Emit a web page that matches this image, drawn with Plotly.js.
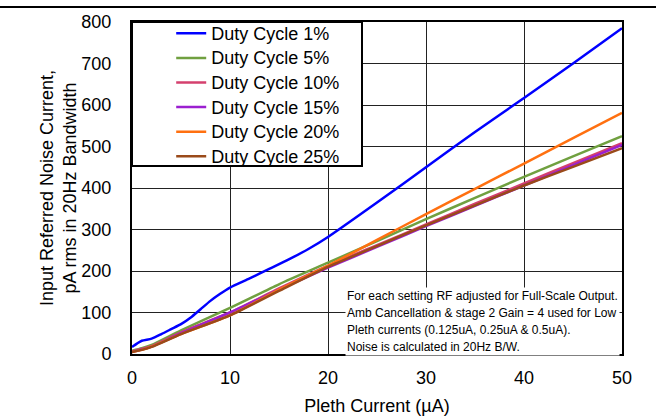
<!DOCTYPE html>
<html>
<head>
<meta charset="utf-8">
<script src="https://cdn.plot.ly/plotly-3.0.1.min.js"></script>
<style>html,body{margin:0;padding:0;background:#fff}</style>
</head>
<body>
<div id="chart" style="width:656px;height:417px"></div>
<script>
const seriesNames = ["Duty Cycle 1%", "Duty Cycle 5%", "Duty Cycle 10%", "Duty Cycle 15%", "Duty Cycle 20%", "Duty Cycle 25%"];
const seriesColors = ["#0000FF", "#70A040", "#D4406E", "#9B1FD0", "#FF7010", "#9A4A1A"];

const xBlue = [0, 0.5, 1, 2, 3, 4, 5, 6, 7, 8, 9, 10, 12, 14, 16, 18, 20, 25, 30, 35, 40, 45, 50];
const dc1 = [17, 25, 32, 37, 48, 60, 72, 88, 108, 128, 145, 160, 182, 205, 228, 253, 282, 365, 450, 535, 617, 700, 785];

const xOther = [0, 1, 2, 5, 10, 15, 20, 25, 30, 35, 40, 45, 50];
const dc5  = [8, 14, 22, 57, 111, 168, 220, 272, 325, 376, 427, 476, 525];
const dc10 = [6, 12, 19, 52, 100, 158, 213, 262, 312, 362, 411, 460, 508];
const dc15 = [5, 11, 18, 50, 100, 155, 208, 258, 308, 357, 406, 455, 504];
const dc20 = [5, 10, 18, 48, 93, 155, 213, 275, 337, 398, 459, 520, 581];
const dc25 = [5, 10, 17, 48, 93, 152, 210, 260, 310, 358, 406, 451, 496];

const xTicks = [0, 10, 20, 30, 40, 50];
const yTicks = [0, 100, 200, 300, 400, 500, 600, 700, 800];

const noteLines = [
  "For each setting RF adjusted for Full-Scale Output.",
  "Amb Cancellation &amp; stage 2 Gain = 4 used for Low",
  "Pleth currents (0.125uA, 0.25uA &amp; 0.5uA).",
  "Noise is calculated in 20Hz B/W."
];

const ys = [dc1, dc5, dc10, dc15, dc20, dc25];
const traces = ys.map((y, i) => ({
  x: i === 0 ? xBlue : xOther,
  y: y,
  name: '<span style="font-size:18px">' + seriesNames[i] + '</span>',
  type: "scatter",
  mode: "lines",
  line: {color: seriesColors[i], width: 2.5, shape: "spline", smoothing: 0.6}
}));

const fam = "Liberation Sans, Arial, sans-serif";
const font = {family: fam, size: 18, color: "#000"};

const layout = {
  width: 656, height: 417,
  margin: {l: 132, r: 34, t: 22, b: 63, pad: 0},
  paper_bgcolor: "#fff", plot_bgcolor: "#fff",
  font: font,
  showlegend: true,
  legend: {
    x: 0.08, y: 1.018, xanchor: "left", yanchor: "top",
    bgcolor: "rgba(0,0,0,0)", borderwidth: 0,
    font: {family: fam, size: 16.6, color: "#000"},
    tracegroupgap: 0
  },
  xaxis: {
    range: [0, 50], tickvals: xTicks, ticktext: xTicks.map(String),
    showgrid: true, gridcolor: "#222", gridwidth: 1,
    zeroline: false, showline: true, linecolor: "#000", linewidth: 2, mirror: true,
    ticks: "", ticklabelstandoff: 6,
    tickfont: {size: 18},
    title: {text: "Pleth Current (µA)", font: {size: 18}, standoff: 13},
    automargin: false, fixedrange: true
  },
  yaxis: {
    range: [0, 800], tickvals: yTicks, ticktext: yTicks.map(String),
    showgrid: true, gridcolor: "#222", gridwidth: 1,
    zeroline: false, showline: true, linecolor: "#000", linewidth: 2, mirror: true,
    ticks: "", ticklabelstandoff: 15,
    tickfont: {size: 18},
    title: {text: "Input Referred Noise Current,<br>pA rms in 20Hz Bandwidth", font: {size: 18}, standoff: 0},
    automargin: false, fixedrange: true
  },
  shapes: [
    {type: "rect", xref: "paper", yref: "paper", x0: 0, x1: 230/490, y0: 1 - 144/332, y1: 1,
     fillcolor: "#fff", line: {color: "#000", width: 2}, layer: "above"},
    {type: "line", xref: "paper", yref: "paper", x0: -132/490, x1: 524/490, y0: 347/332, y1: 347/332,
     line: {color: "#000", width: 2}}
  ],
  annotations: [{
    xref: "paper", yref: "paper", x: (345-132)/490, y: -0.005, xanchor: "left", yanchor: "bottom",
    align: "left", showarrow: false, bgcolor: "#fff", borderpad: 1,
    font: {family: fam, size: 13, color: "#000"},
    text: noteLines.map(s => '<span style="font-size:12px">' + s + '</span>').join("<br>")
  }]
};

Plotly.newPlot("chart", traces, layout, {displayModeBar: false, staticPlot: true});
</script>
</body>
</html>
